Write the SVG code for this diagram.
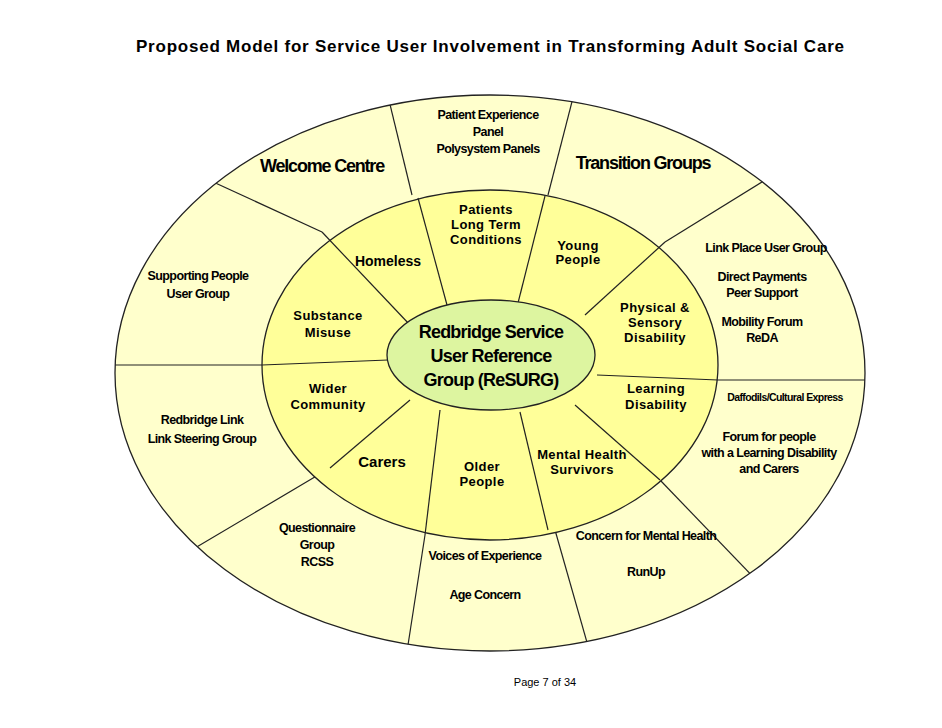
<svg xmlns="http://www.w3.org/2000/svg" width="942" height="728" viewBox="0 0 942 728">
<defs><clipPath id="oc"><ellipse cx="490" cy="373" rx="375" ry="278"/></clipPath></defs>
<style>
.e{stroke:#222;stroke-width:1.3}
.l{stroke:#222;stroke-width:1.2}
text{font-family:"Liberation Sans",Arial,sans-serif;font-weight:bold;fill:#000;text-anchor:middle}
.o{font-size:12.5px;letter-spacing:-0.6px}
.ob{font-size:18px;letter-spacing:-1.2px}
.m{font-size:13px;letter-spacing:0.4px}
.c{font-size:18px;letter-spacing:-0.8px}
</style>
<rect width="942" height="728" fill="#fff"/>
<text x="490" y="52" style="font-size:17px" textLength="708" lengthAdjust="spacing">Proposed Model for Service User Involvement in Transforming Adult Social Care</text>
<g id="outer"><ellipse class="e" cx="490" cy="373" rx="375" ry="278" fill="#ffffcc"/></g>
<g id="connectors-outer" clip-path="url(#oc)">
<line class="l" x1="198" y1="175" x2="322" y2="232"/>
<line class="l" x1="386" y1="88" x2="412" y2="195"/>
<line class="l" x1="575" y1="90" x2="548" y2="195"/>
<line class="l" x1="775" y1="174" x2="665" y2="242"/>
<line class="l" x1="100" y1="365" x2="262" y2="365"/>
<line class="l" x1="880" y1="380" x2="718" y2="380"/>
<line class="l" x1="195" y1="548" x2="330" y2="468"/>
<line class="l" x1="408" y1="645" x2="425" y2="535"/>
<line class="l" x1="592" y1="660" x2="555" y2="530"/>
<line class="l" x1="785" y1="610" x2="660" y2="480"/>
</g>
<g id="middle"><ellipse class="e" cx="490" cy="365" rx="228" ry="175" fill="#ffff99"/></g>
<g id="connectors-inner">
<line class="l" x1="322" y1="232" x2="410" y2="325"/>
<line class="l" x1="418" y1="198" x2="447" y2="305"/>
<line class="l" x1="545" y1="196" x2="518" y2="303"/>
<line class="l" x1="665" y1="242" x2="585" y2="315"/>
<line class="l" x1="262" y1="365" x2="388" y2="360"/>
<line class="l" x1="718" y1="380" x2="597" y2="375"/>
<line class="l" x1="330" y1="468" x2="410" y2="400"/>
<line class="l" x1="425" y1="535" x2="440" y2="410"/>
<line class="l" x1="548" y1="530" x2="520" y2="412"/>
<line class="l" x1="660" y1="480" x2="575" y2="405"/>
</g>
<g id="center"><ellipse class="e" cx="491" cy="355" rx="104" ry="55" fill="#ddf5a0"/>
<text class="c" x="491" y="338">Redbridge Service</text>
<text class="c" x="491" y="362">User Reference</text>
<text class="c" x="491" y="386">Group (ReSURG)</text></g>
<g id="o1"><text class="o" x="488" y="119">Patient Experience</text><text class="o" x="488" y="136">Panel</text><text class="o" x="488" y="153">Polysystem Panels</text></g>
<g id="o2"><text class="ob" x="322" y="172">Welcome Centre</text></g>
<g id="o3"><text class="ob" x="643" y="169">Transition Groups</text></g>
<g id="o4"><text class="o" x="198" y="280">Supporting People</text><text class="o" x="198" y="298">User Group</text></g>
<g id="o5"><text class="o" x="766" y="252">Link Place User Group</text><text class="o" x="762" y="281">Direct Payments</text><text class="o" x="762" y="297">Peer Support</text><text class="o" x="762" y="326">Mobility Forum</text><text class="o" x="762" y="342">ReDA</text></g>
<g id="o6"><text class="o" x="202" y="424">Redbridge Link</text><text class="o" x="202" y="443">Link Steering Group</text></g>
<g id="o7"><text class="o" x="785" y="401" style="font-size:10.5px">Daffodils/Cultural Express</text><text class="o" x="769" y="441">Forum for people</text><text class="o" x="769" y="457">with a Learning Disability</text><text class="o" x="769" y="473">and Carers</text></g>
<g id="o8"><text class="o" x="317" y="532">Questionnaire</text><text class="o" x="317" y="549">Group</text><text class="o" x="317" y="566">RCSS</text></g>
<g id="o9"><text class="o" x="485" y="560">Voices of Experience</text><text class="o" x="485" y="599">Age Concern</text></g>
<g id="o10"><text class="o" x="646" y="540">Concern for Mental Health</text><text class="o" x="646" y="576">RunUp</text></g>
<g id="m1"><text class="m" x="486" y="214">Patients</text><text class="m" x="486" y="229">Long Term</text><text class="m" x="486" y="244">Conditions</text></g>
<g id="m2"><text class="m" x="578" y="250">Young</text><text class="m" x="578" y="264">People</text></g>
<g id="m3"><text class="m" x="388" y="266" style="letter-spacing:0;font-size:14px">Homeless</text></g>
<g id="m4"><text class="m" x="328" y="320">Substance</text><text class="m" x="328" y="337">Misuse</text></g>
<g id="m5"><text class="m" x="655" y="312">Physical &amp;</text><text class="m" x="655" y="327">Sensory</text><text class="m" x="655" y="342">Disability</text></g>
<g id="m6"><text class="m" x="328" y="393">Wider</text><text class="m" x="328" y="409">Community</text></g>
<g id="m7"><text class="m" x="656" y="393">Learning</text><text class="m" x="656" y="409">Disability</text></g>
<g id="m8"><text class="m" x="382" y="467" style="letter-spacing:0;font-size:15px">Carers</text></g>
<g id="m9"><text class="m" x="482" y="471">Older</text><text class="m" x="482" y="486">People</text></g>
<g id="m10"><text class="m" x="582" y="459">Mental Health</text><text class="m" x="582" y="474">Survivors</text></g>
<text x="545" y="686" style="font-size:11px;font-weight:normal">Page  7 of 34</text>
</svg>
